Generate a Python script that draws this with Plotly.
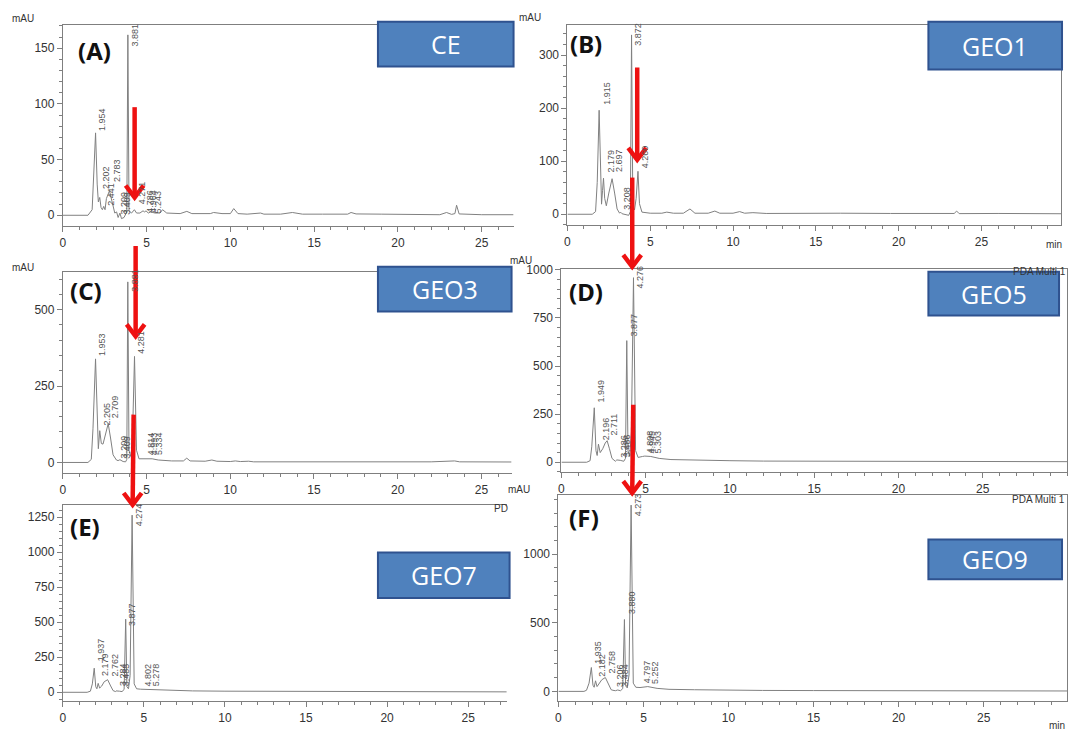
import plotly.graph_objects as go

W, H = 1069, 733

# ------------------------------------------------------------------ data
x_ticks = [0, 5, 10, 15, 20, 25]

# (A) CE
A_name = "CE"
A_time = [0, 1.5, 1.75, 1.85, 1.954, 2.05, 2.12, 2.202, 2.28, 2.36, 2.441, 2.52, 2.6, 2.783, 2.95, 3.1,
          3.209, 3.3, 3.409, 3.5, 3.65, 3.82, 3.881, 3.95, 4.1, 4.271, 4.4, 4.6, 4.786, 4.88, 4.964, 5.1,
          5.243, 5.5, 5.8, 5.95, 6.2, 7.0, 7.4, 7.7, 8.8, 9.0, 9.5, 10.0, 10.2, 10.45, 11.0, 11.8, 12.0,
          13.0, 13.7, 14.3, 15.5, 17.0, 17.2, 17.5, 19.0, 20.5, 22.5, 22.9, 23.2, 23.4, 23.5, 23.65, 25.0, 26.9]
A_signal = [0, 0, 5, 35, 74, 28, 12, 16, 7, 5, 8, 5, 15, 22, 12, 2,
            3, -2, 2, -3, -2, 3, 162, 4, 2, 5, 2, 2, 4, 3, 4, 2,
            3, 2, 2, 5, 2, 1.5, 3.5, 1.5, 1.5, 2.5, 1.5, 1.5, 6, 1.5, 1, 2, 1,
            1, 2.5, 1, 1, 1, 2.5, 1.2, 1, 0.8, 0.5, 2.5, 0.8, 1.5, 9, 1.2, 0.5, 0.5]
A_peak_labels = ["1.954", "2.202", "2.441", "2.783", "3.209", "3.409", "3.881", "4.271", "4.786", "4.964", "5.243"]
A_label_height = [74, 22, 7, 28, -1, -1, 150, 8, 0, 0, 0]
A_yticks = [0, 50, 100, 150]

# (B) GEO1
B_name = "GEO1"
B_time = [0, 1.5, 1.7, 1.8, 1.915, 2.0, 2.06, 2.12, 2.179, 2.25, 2.35, 2.5, 2.697, 2.85, 3.0, 3.15,
          3.208, 3.3, 3.5, 3.7, 3.8, 3.872, 3.95, 4.05, 4.15, 4.26, 4.35, 4.5, 5.0, 5.7, 6.0, 6.4,
          7.0, 7.4, 7.7, 8.5, 8.9, 9.2, 10.0, 10.4, 10.7, 11.2, 12, 14, 16.5, 19.5, 22.5, 23.35, 23.5, 23.65,
          26, 29.8]
B_signal = [0, 0, 5, 60, 196, 70, 19, 45, 68, 30, 16, 40, 67, 40, 10, 2,
            4, 1, -1, -2, 5, 338, 15, 8, 30, 81, 20, 4, 2, 2, 4, 2,
            2, 10, 2, 2, 6, 2, 2, 5, 2, 3, 1.5, 2, 2, 1.5, 1.5, 1.5, 6, 1.2,
            1.5, 1]
B_peak_labels = ["1.915", "2.179", "2.697", "3.208", "3.872", "4.260"]
B_label_height = [202, 75, 75, 5, 314, 84]
B_yticks = [0, 100, 200, 300]

# (C) GEO3
C_name = "GEO3"
C_time = [0, 1.5, 1.7, 1.8, 1.953, 2.05, 2.12, 2.205, 2.3, 2.4, 2.55, 2.709, 2.85, 3.0, 3.2, 3.3,
          3.409, 3.6, 3.75, 3.82, 3.881, 3.95, 4.05, 4.15, 4.281, 4.4, 4.55, 4.814, 4.993, 5.334, 5.7,
          6.0, 6.5, 7.2, 7.4, 7.6, 8.5, 8.9, 9.2, 10.0, 10.3, 10.6, 11.1, 11.4, 13, 16, 19, 22, 23.4, 23.7, 26.8]
C_signal = [0, 0, 10, 110, 339, 120, 45, 104, 62, 60, 95, 127, 80, 25, 8, 6,
            9, 3, 2, 10, 591, 40, 20, 60, 347, 40, 12, 12, 13, 12, 8,
            6, 5, 5, 14, 5, 4, 8, 4, 3, 5, 3, 4, 2, 2, 2, 2, 2, 5, 2, 1.5]
C_peak_labels = ["1.953", "2.205", "2.709", "3.209", "3.409", "3.881", "4.281", "4.814", "4.993", "5.334"]
C_label_height = [342, 115, 137, 7, 7, 553, 349, 17, 17, 17]
C_yticks = [0, 250, 500]

# (D) GEO5
D_name = "GEO5"
D_time = [0, 1.5, 1.7, 1.8, 1.949, 2.05, 2.12, 2.196, 2.3, 2.45, 2.6, 2.711, 2.85, 3.0, 3.2, 3.286,
          3.486, 3.7, 3.8, 3.877, 3.95, 4.05, 4.15, 4.276, 4.4, 4.55, 4.808, 4.945, 5.303, 5.8, 6.5,
          8, 9, 10, 12, 15, 18, 21, 23.5, 26, 30]
D_signal = [0, 0, 8, 80, 283, 60, 35, 94, 50, 70, 100, 112, 70, 20, 5, 12,
            10, 5, 20, 632, 60, 30, 150, 959, 60, 25, 30, 32, 30, 20, 14,
            10, 8, 8, 6, 5, 5, 4, 5, 3, 3]
D_peak_labels = ["1.949", "2.196", "2.711", "3.286", "3.486", "3.877", "4.276", "4.808", "4.945", "5.303"]
D_label_height = [299, 103, 129, 15, 15, 644, 892, 36, 36, 36]
D_yticks = [0, 250, 500, 750, 1000]

# (E) GEO7
E_name = "GEO7"
E_time = [0, 1.5, 1.7, 1.82, 1.937, 2.03, 2.1, 2.179, 2.27, 2.4, 2.55, 2.762, 2.95, 3.1, 3.25, 3.284,
          3.485, 3.65, 3.78, 3.877, 3.95, 4.05, 4.15, 4.274, 4.4, 4.55, 4.802, 5.278, 5.8, 6.5, 8, 10,
          12, 15, 18, 21, 24, 27.4]
E_signal = [0, 0, 8, 60, 172, 40, 25, 64, 30, 45, 75, 90, 45, 12, 5, 10,
            8, 5, 20, 522, 40, 25, 120, 1265, 60, 25, 22, 20, 15, 12, 10, 8,
            7, 6, 5, 5, 4, 3]
E_peak_labels = ["1.937", "2.179", "2.762", "3.284", "3.485", "3.877", "4.274", "4.802", "5.278"]
E_label_height = [205, 99, 99, 28, 28, 460, 1168, 28, 28]
E_yticks = [0, 250, 500, 750, 1000, 1250]

# (F) GEO9
F_name = "GEO9"
F_time = [0, 1.5, 1.65, 1.8, 1.935, 2.03, 2.1, 2.182, 2.27, 2.4, 2.55, 2.758, 2.95, 3.1, 3.206, 3.35,
          3.484, 3.65, 3.78, 3.88, 3.95, 4.05, 4.15, 4.273, 4.4, 4.55, 4.797, 5.252, 5.8, 6.5, 8, 10,
          12, 15, 18, 21, 24, 29.9]
F_signal = [0, 0, 8, 60, 174, 45, 30, 77, 35, 55, 85, 101, 50, 12, 8, 5,
            10, 5, 20, 524, 40, 25, 120, 1358, 60, 30, 28, 35, 22, 15, 12, 8,
            7, 6, 6, 5, 4, 3]
F_peak_labels = ["1.935", "2.182", "2.758", "3.206", "3.484", "3.880", "4.273", "4.797", "5.252"]
F_label_height = [186, 92, 114, 20, 20, 549, 1259, 41, 41]
F_yticks = [0, 500, 1000]

# ------------------------------------------------------------------ layout config (pixels)
panels = [
    dict(letter="(A)", name=A_name, t=A_time, s=A_signal, pl=A_peak_labels, ph=A_label_height, yt=A_yticks,
         box=(60, 19, 512, 222), xr=[0, 26.9], yr=[-9.8, 171], yminor=10, mirror_y=False,
         let_xy=(92, 45), tag=(376, 16, 512, 61)),
    dict(letter="(B)", name=B_name, t=B_time, s=B_signal, pl=B_peak_labels, ph=B_label_height, yt=B_yticks,
         box=(566, 19, 1061, 221), xr=[0, 29.8], yr=[-20.6, 357], yminor=20, mirror_y=True,
         let_xy=(585, 38), tag=(928, 16, 1062, 64)),
    dict(letter="(C)", name=C_name, t=C_time, s=C_signal, pl=C_peak_labels, ph=C_label_height, yt=C_yticks,
         box=(60, 268, 510, 471), xr=[0, 26.8], yr=[-35, 624], yminor=50, mirror_y=False,
         let_xy=(83, 287), tag=(376, 263, 510, 308)),
    dict(letter="(D)", name=D_name, t=D_time, s=D_signal, pl=D_peak_labels, ph=D_label_height, yt=D_yticks,
         box=(560, 265, 1067, 470), xr=[0, 30], yr=[-51.5, 1005], yminor=50, mirror_y=True,
         let_xy=(585, 288), tag=(928, 268, 1059, 312)),
    dict(letter="(E)", name=E_name, t=E_time, s=E_signal, pl=E_peak_labels, ph=E_label_height, yt=E_yticks,
         box=(60, 503, 505, 701), xr=[0, 27.37], yr=[-64, 1338], yminor=50, mirror_y=False,
         let_xy=(82, 525), tag=(376, 551, 508, 597)),
    dict(letter="(F)", name=F_name, t=F_time, s=F_signal, pl=F_peak_labels, ph=F_label_height, yt=F_yticks,
         box=(557, 493, 1067, 701), xr=[0, 29.9], yr=[-72, 1432], yminor=100, mirror_y=True,
         let_xy=(583, 516), tag=(928, 538, 1062, 578)),
]


def px(x):
    return x / W


def py(y):
    return 1 - y / H


AX = "#7f7f7f"
TXT = "#333333"
fig = go.Figure()
annotations = []
shapes = []

for i, p in enumerate(panels, start=1):
    xa = "x" if i == 1 else f"x{i}"
    ya = "y" if i == 1 else f"y{i}"
    x0, y0, x1, y1 = p["box"]
    fig.add_trace(go.Scatter(x=p["t"], y=p["s"], mode="lines", xaxis=xa, yaxis=ya,
                             line=dict(color="#808080", width=1), hoverinfo="skip", showlegend=False))
    xkey = "xaxis" if i == 1 else f"xaxis{i}"
    ykey = "yaxis" if i == 1 else f"yaxis{i}"
    fig.update_layout(**{
        xkey: dict(domain=[px(x0), px(x1)], anchor=ya, range=p["xr"], showgrid=False, zeroline=False,
                   showline=True, linecolor=AX, linewidth=1, mirror=True, ticks="outside", ticklen=5,
                   tickcolor=AX, tickvals=x_ticks, tickfont=dict(family="Liberation Sans", size=12, color=TXT),
                   minor=dict(tickmode="linear", tick0=0, dtick=1, ticklen=3, ticks="outside",
                              tickcolor=AX, showgrid=False)),
        ykey: dict(domain=[py(y1), py(y0)], anchor=xa, range=p["yr"], showgrid=False, zeroline=False,
                   showline=True, linecolor=AX, linewidth=1, mirror=p["mirror_y"], ticks="outside",
                   ticklen=5, tickcolor=AX, tickvals=p["yt"],
                   tickfont=dict(family="Liberation Sans", size=12, color=TXT),
                   minor=dict(tickmode="linear", tick0=0, dtick=p["yminor"], ticklen=3, ticks="outside",
                              tickcolor=AX, showgrid=False)),
    })
    # peak labels
    for lab, hgt in zip(p["pl"], p["ph"]):
        annotations.append(dict(x=float(lab), y=hgt, xref=xa, yref=ya, text=lab, textangle=-90,
                                showarrow=False, xanchor="center", yanchor="bottom", xshift=7,
                                font=dict(family="Liberation Sans", size=9, color="#555555")))
    # panel letter
    lx, ly = p["let_xy"]
    annotations.append(dict(x=px(lx), y=py(ly), xref="paper", yref="paper", text=f"<b>{p['letter']}</b>",
                            showarrow=False, xanchor="center", yanchor="middle",
                            font=dict(family="Noto Sans", size=24, color="#111111")))
    # sample tag box
    tx0, ty0, tx1, ty1 = p["tag"]
    shapes.append(dict(type="rect", xref="paper", yref="paper", x0=px(tx0), x1=px(tx1), y0=py(ty1), y1=py(ty0),
                       fillcolor="#4F81BD", line=dict(color="#2F528F", width=2), layer="above"))
    annotations.append(dict(x=px((tx0 + tx1) / 2), y=py((ty0 + ty1) / 2), xref="paper", yref="paper",
                            text=p["name"], showarrow=False, xanchor="center", yanchor="middle",
                            font=dict(family="Open Sans", size=25, color="white")))

# small instrument texts
small = [("mAU", 20, 13), ("mAU", 528, 12), ("mAU", 20, 264), ("mAU", 519, 257), ("mAU", 517, 487),
         ("min", 1054, 240), ("min", 1057, 725), ("PDA Multi 1", 1039, 268), ("PDA Multi 1", 1038, 498),
         ("PD", 499, 507)]
for txt, sx, sy in small:
    annotations.append(dict(x=px(sx), y=py(sy), xref="paper", yref="paper", text=txt, showarrow=False,
                            xanchor="center", yanchor="middle",
                            font=dict(family="Liberation Sans", size=10, color=TXT)))

# red arrows (pixel geometry)
arrows = [((132, 102), (132, 195)), ((636, 62), (636, 157)), ((631, 173), (631, 265)),
          ((133, 242), (133, 335)), ((131, 412), (130, 505)), ((632, 402), (631, 493))]
RED = "#EE1111"
for (sx, sy), (ex, ey) in arrows:
    shapes.append(dict(type="path", xref="paper", yref="paper",
                       path=f"M {px(sx)} {py(sy)} L {px(ex)} {py(ey - 2)}",
                       line=dict(color=RED, width=4.5), layer="above"))
    shapes.append(dict(type="path", xref="paper", yref="paper",
                       path=f"M {px(ex - 9)} {py(ey - 14)} L {px(ex)} {py(ey - 2)} L {px(ex + 9)} {py(ey - 14)}",
                       line=dict(color=RED, width=4.5), layer="above"))

fig.update_layout(width=W, height=H, margin=dict(l=0, r=0, t=0, b=0), paper_bgcolor="white",
                  plot_bgcolor="white", showlegend=False, annotations=annotations, shapes=shapes)
fig.write_html("out.html")
